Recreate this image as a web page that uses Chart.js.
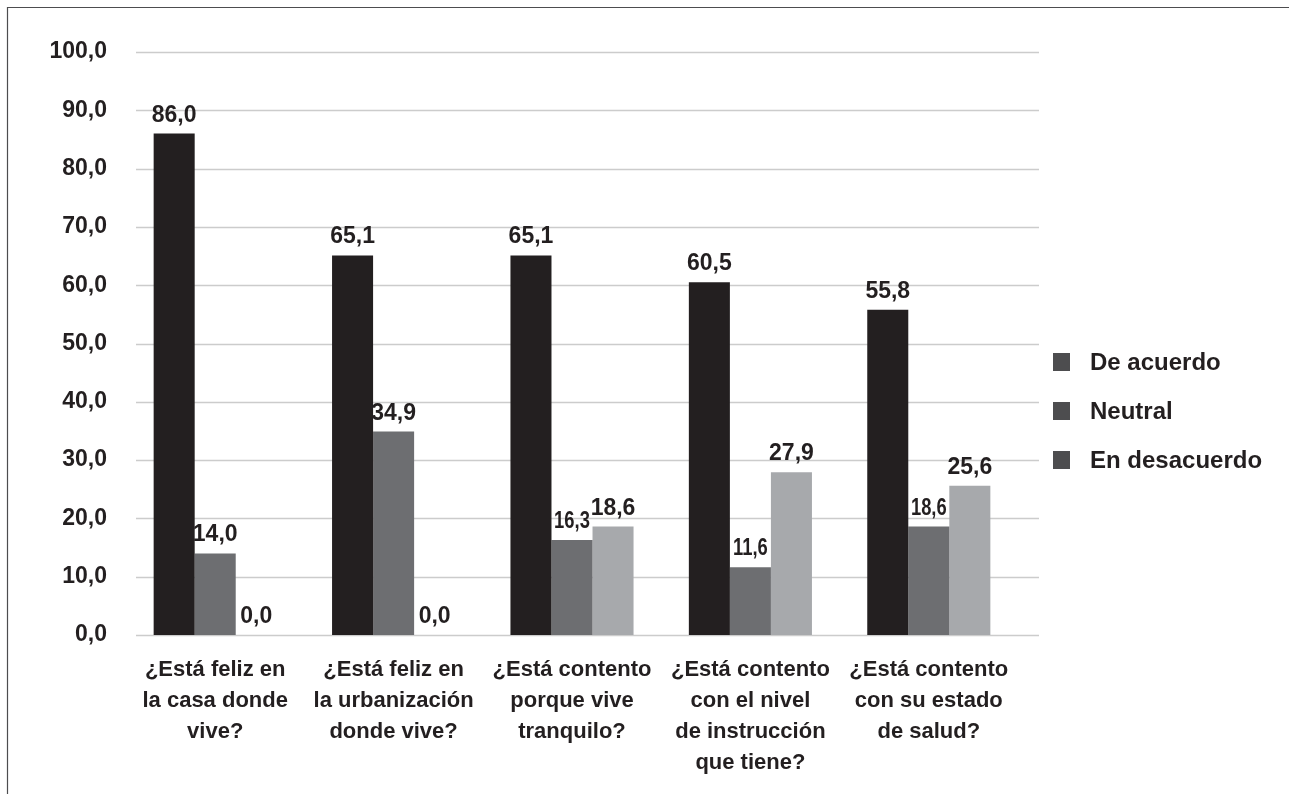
<!DOCTYPE html>
<html>
<head>
<meta charset="utf-8">
<script src="https://cdn.jsdelivr.net/npm/chart.js@4/dist/chart.umd.min.js"></script>
<style>
  html, body { margin: 0; padding: 0; background: #ffffff; }
  #wrap { width: 1289px; height: 794px; position: relative; }
</style>
</head>
<body>
<div id="wrap"><canvas id="c" width="1289" height="794"></canvas></div>
<script>
const categories = [
  ["¿Está feliz en", "la casa donde", "vive?"],
  ["¿Está feliz en", "la urbanización", "donde vive?"],
  ["¿Está contento", "porque vive", "tranquilo?"],
  ["¿Está contento", "con el nivel", "de instrucción", "que tiene?"],
  ["¿Está contento", "con su estado", "de salud?"]
];
const seriesNames = ["De acuerdo", "Neutral", "En desacuerdo"];
const deAcuerdo = [86.0, 65.1, 65.1, 60.5, 55.8];
const neutral = [14.0, 34.9, 16.3, 11.6, 18.6];
const enDesacuerdo = [0.0, 0.0, 18.6, 27.9, 25.6];
const yTicks = [0, 10, 20, 30, 40, 50, 60, 70, 80, 90, 100];

const colors = ["#231f20", "#6d6e71", "#a7a9ac"];
const legendColor = "#4d4d4f";
const textColor = "#231f20";
const FONT = "'Liberation Sans', Arial, Helvetica, sans-serif";

const fmt = v => v.toFixed(1).replace('.', ',');

const framePlugin = {
  id: 'frame',
  beforeDraw(chart) {
    const ctx = chart.ctx;
    ctx.save();
    ctx.fillStyle = '#ffffff';
    ctx.fillRect(0, 0, chart.width, chart.height);
    ctx.strokeStyle = '#4d4d4f';
    ctx.lineWidth = 1.2;
    ctx.beginPath();
    ctx.moveTo(7.5, chart.height);
    ctx.lineTo(7.5, 7.5);
    ctx.lineTo(chart.width, 7.5);
    ctx.stroke();
    ctx.restore();
  }
};

const gridPlugin = {
  id: 'customGrid',
  beforeDatasetsDraw(chart) {
    const ctx = chart.ctx;
    const ys = chart.scales.y;
    const a = chart.chartArea;
    ctx.save();
    ctx.strokeStyle = '#cccccc';
    ctx.lineWidth = 1.5;
    ys.ticks.forEach(t => {
      const y = Math.round(ys.getPixelForValue(t.value)) + 0.5;
      ctx.beginPath();
      ctx.moveTo(a.left + 10, y);
      ctx.lineTo(a.right + 21, y);
      ctx.stroke();
    });
    ctx.restore();
  }
};

const labelPlugin = {
  id: 'valueLabels',
  afterDatasetsDraw(chart) {
    const ctx = chart.ctx;
    ctx.save();
    ctx.fillStyle = textColor;
    ctx.textAlign = 'center';
    ctx.textBaseline = 'alphabetic';
    ctx.font = 'bold 23px ' + FONT;
    chart.data.datasets.forEach((ds, di) => {
      const meta = chart.getDatasetMeta(di);
      meta.data.forEach((bar, i) => {
        const condensed = (di === 1 && i >= 2);
        ctx.save();
        ctx.translate(bar.x, bar.y - 12);
        if (condensed) ctx.scale(0.8, 1);
        ctx.fillText(fmt(ds.data[i]), 0, 0);
        ctx.restore();
      });
    });
    ctx.restore();
  }
};

const legendPlugin = {
  id: 'sideLegend',
  afterDraw(chart) {
    const ctx = chart.ctx;
    const a = chart.chartArea;
    const x0 = a.right + 35;
    const cy = 411;
    const step = 49;
    const n = chart.data.datasets.length;
    ctx.save();
    ctx.font = 'bold 24px ' + FONT;
    ctx.textBaseline = 'middle';
    ctx.textAlign = 'left';
    chart.data.datasets.forEach((ds, i) => {
      const y = cy + (i - (n - 1) / 2) * step;
      ctx.fillStyle = legendColor;
      ctx.fillRect(x0, y - 9, 17, 18);
      ctx.fillStyle = textColor;
      ctx.fillText(ds.label, x0 + 37, y + 1);
    });
    ctx.restore();
  }
};

new Chart(document.getElementById('c'), {
  type: 'bar',
  data: {
    labels: categories,
    datasets: [
      { label: seriesNames[0], data: deAcuerdo, backgroundColor: colors[0] },
      { label: seriesNames[1], data: neutral, backgroundColor: colors[1] },
      { label: seriesNames[2], data: enDesacuerdo, backgroundColor: colors[2] }
    ]
  },
  options: {
    responsive: false,
    animation: false,
    devicePixelRatio: 1,
    categoryPercentage: 0.69,
    barPercentage: 1.0,
    layout: { padding: { left: 50, right: 271, top: 52, bottom: 0 } },
    plugins: {
      legend: { display: false },
      tooltip: { enabled: false }
    },
    scales: {
      x: {
        grid: { display: false, drawTicks: false },
        border: { display: false },
        afterFit(scale) { scale.height = 159; scale.paddingLeft = 0; scale.paddingRight = 0; },
        ticks: {
          color: textColor,
          font: { family: FONT, size: 22, weight: 'bold', lineHeight: 1.41 },
          padding: 19,
          maxRotation: 0,
          autoSkip: false
        }
      },
      y: {
        min: 0,
        max: 100,
        afterBuildTicks(scale) { scale.ticks = yTicks.map(v => ({ value: v })); },
        afterFit(scale) { scale.width = 76; },
        grid: { display: false, drawTicks: false },
        border: { display: false },
        ticks: {
          color: textColor,
          font: { family: FONT, size: 23, weight: 'bold' },
          padding: 19,
          callback: v => fmt(v)
        }
      }
    }
  },
  plugins: [framePlugin, gridPlugin, labelPlugin, legendPlugin]
});
</script>
</body>
</html>
